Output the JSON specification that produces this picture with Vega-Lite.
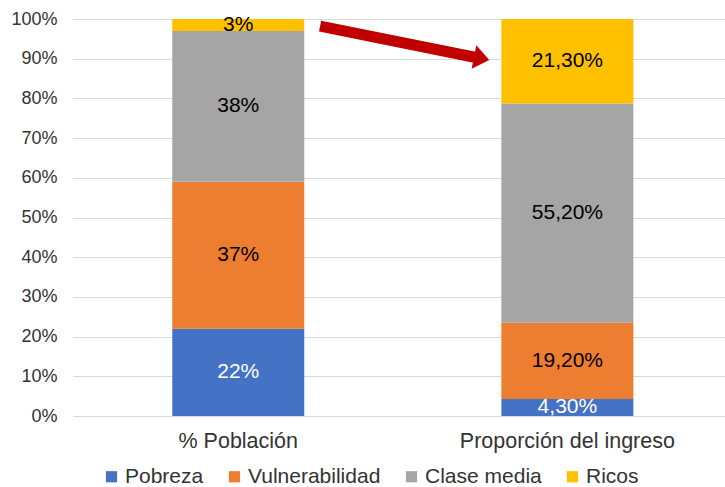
{
  "$schema": "https://vega.github.io/schema/vega-lite/v6.json",
  "width": 652,
  "height": 397,
  "autosize": {"type": "none"},
  "padding": {"left": 73, "top": 19, "right": 0, "bottom": 71},
  "background": "white",
  "config": {
    "view": {"stroke": null},
    "font": "Liberation Sans",
    "axis": {"labelFont": "Liberation Sans", "labelColor": "#404040"},
    "legend": {"labelFont": "Liberation Sans", "labelColor": "#404040"}
  },
  "datasets": {
    "bars": [
      {"grupo": "% Población", "cat": "Pobreza", "orden": 1, "valor": 22, "etiqueta": "22%"},
      {"grupo": "% Población", "cat": "Vulnerabilidad", "orden": 2, "valor": 37, "etiqueta": "37%"},
      {"grupo": "% Población", "cat": "Clase media", "orden": 3, "valor": 38, "etiqueta": "38%"},
      {"grupo": "% Población", "cat": "Ricos", "orden": 4, "valor": 3, "etiqueta": "3%"},
      {"grupo": "Proporción del ingreso", "cat": "Pobreza", "orden": 1, "valor": 4.3, "etiqueta": "4,30%"},
      {"grupo": "Proporción del ingreso", "cat": "Vulnerabilidad", "orden": 2, "valor": 19.2, "etiqueta": "19,20%"},
      {"grupo": "Proporción del ingreso", "cat": "Clase media", "orden": 3, "valor": 55.2, "etiqueta": "55,20%"},
      {"grupo": "Proporción del ingreso", "cat": "Ricos", "orden": 4, "valor": 21.3, "etiqueta": "21,30%"}
    ],
    "flecha": [
      {"x": 0.379, "y": 98.2, "x2": 0.618, "y2": 90.3, "hx": 0.624, "hy": 90.15}
    ]
  },
  "layer": [
    {
      "data": {"name": "bars"},
      "layer": [
        {
          "mark": {"type": "bar"},
          "encoding": {
            "x": {
              "field": "grupo", "type": "nominal", "sort": null,
              "scale": {"paddingInner": 0.599, "paddingOuter": 0.29, "align": 0.52},
              "axis": {"title": null, "labelAngle": 0, "labelFontSize": 21.5, "labelPadding": 14, "labelLimit": 0, "ticks": false, "domain": false, "labelColor": "#333333"}
            },
            "y": {
              "field": "valor", "type": "quantitative", "stack": "zero",
              "scale": {"domain": [0, 100]},
              "axis": {"title": null, "values": [0,10,20,30,40,50,60,70,80,90,100], "labelExpr": "datum.value + '%'", "labelFontSize": 18, "labelPadding": 16, "ticks": false, "domain": false, "gridColor": "#D9D9D9", "gridWidth": 1, "labelColor": "#333333", "labelOverlap": false}
            },
            "color": {
              "field": "cat", "type": "nominal",
              "scale": {"domain": ["Pobreza", "Vulnerabilidad", "Clase media", "Ricos"], "range": ["#4472C4", "#ED7D31", "#A5A5A5", "#FFC000"]},
              "legend": {"title": null, "orient": "none", "legendX": 28, "legendY": 447, "padding": 0, "direction": "horizontal", "symbolType": "square", "symbolSize": 125, "symbolStrokeWidth": 0, "labelFontSize": 21, "columnPadding": 20, "labelOffset": 3, "labelColor": "#333333", "labelLimit": 0}
            },
            "order": {"field": "orden", "type": "quantitative"}
          }
        },
        {
          "transform": [
            {"stack": "valor", "groupby": ["grupo"], "sort": [{"field": "orden"}], "as": ["y0", "y1"]},
            {"calculate": "(datum.y0 + datum.y1) / 2", "as": "mid"}
          ],
          "mark": {"type": "text", "fontSize": 21, "baseline": "middle", "align": "center"},
          "encoding": {
            "x": {"field": "grupo", "type": "nominal", "sort": null},
            "y": {
              "field": "mid", "type": "quantitative",
              "axis": {"title": null, "values": [0,10,20,30,40,50,60,70,80,90,100], "labelExpr": "datum.value + '%'", "labelFontSize": 18, "labelPadding": 16, "ticks": false, "domain": false, "gridColor": "#D9D9D9", "gridWidth": 1, "labelColor": "#333333", "labelOverlap": false}
            },
            "text": {"field": "etiqueta"},
            "color": {
              "condition": {"test": "datum.cat === 'Pobreza'", "value": "white"},
              "value": "#000000"
            }
          }
        }
      ]
    },
    {
      "data": {"name": "flecha"},
      "layer": [
        {
          "mark": {"type": "rule", "color": "#C00000", "strokeWidth": 11, "strokeCap": "butt"},
          "encoding": {
            "x": {"field": "x", "type": "quantitative", "scale": {"domain": [0, 1]}, "axis": null},
            "y": {"field": "y", "type": "quantitative", "scale": {"domain": [0, 100]}, "axis": null},
            "x2": {"field": "x2"},
            "y2": {"field": "y2"}
          }
        },
        {
          "mark": {"type": "point", "filled": true, "color": "#C00000", "opacity": 1, "shape": "M-0.5,-1L0.8,0L-0.5,1Z", "size": 576, "angle": 11.3},
          "encoding": {
            "x": {"field": "hx", "type": "quantitative", "scale": {"domain": [0, 1]}, "axis": null},
            "y": {"field": "hy", "type": "quantitative", "scale": {"domain": [0, 100]}, "axis": null}
          }
        }
      ]
    }
  ],
  "resolve": {"scale": {"x": "independent", "y": "independent"}}
}
